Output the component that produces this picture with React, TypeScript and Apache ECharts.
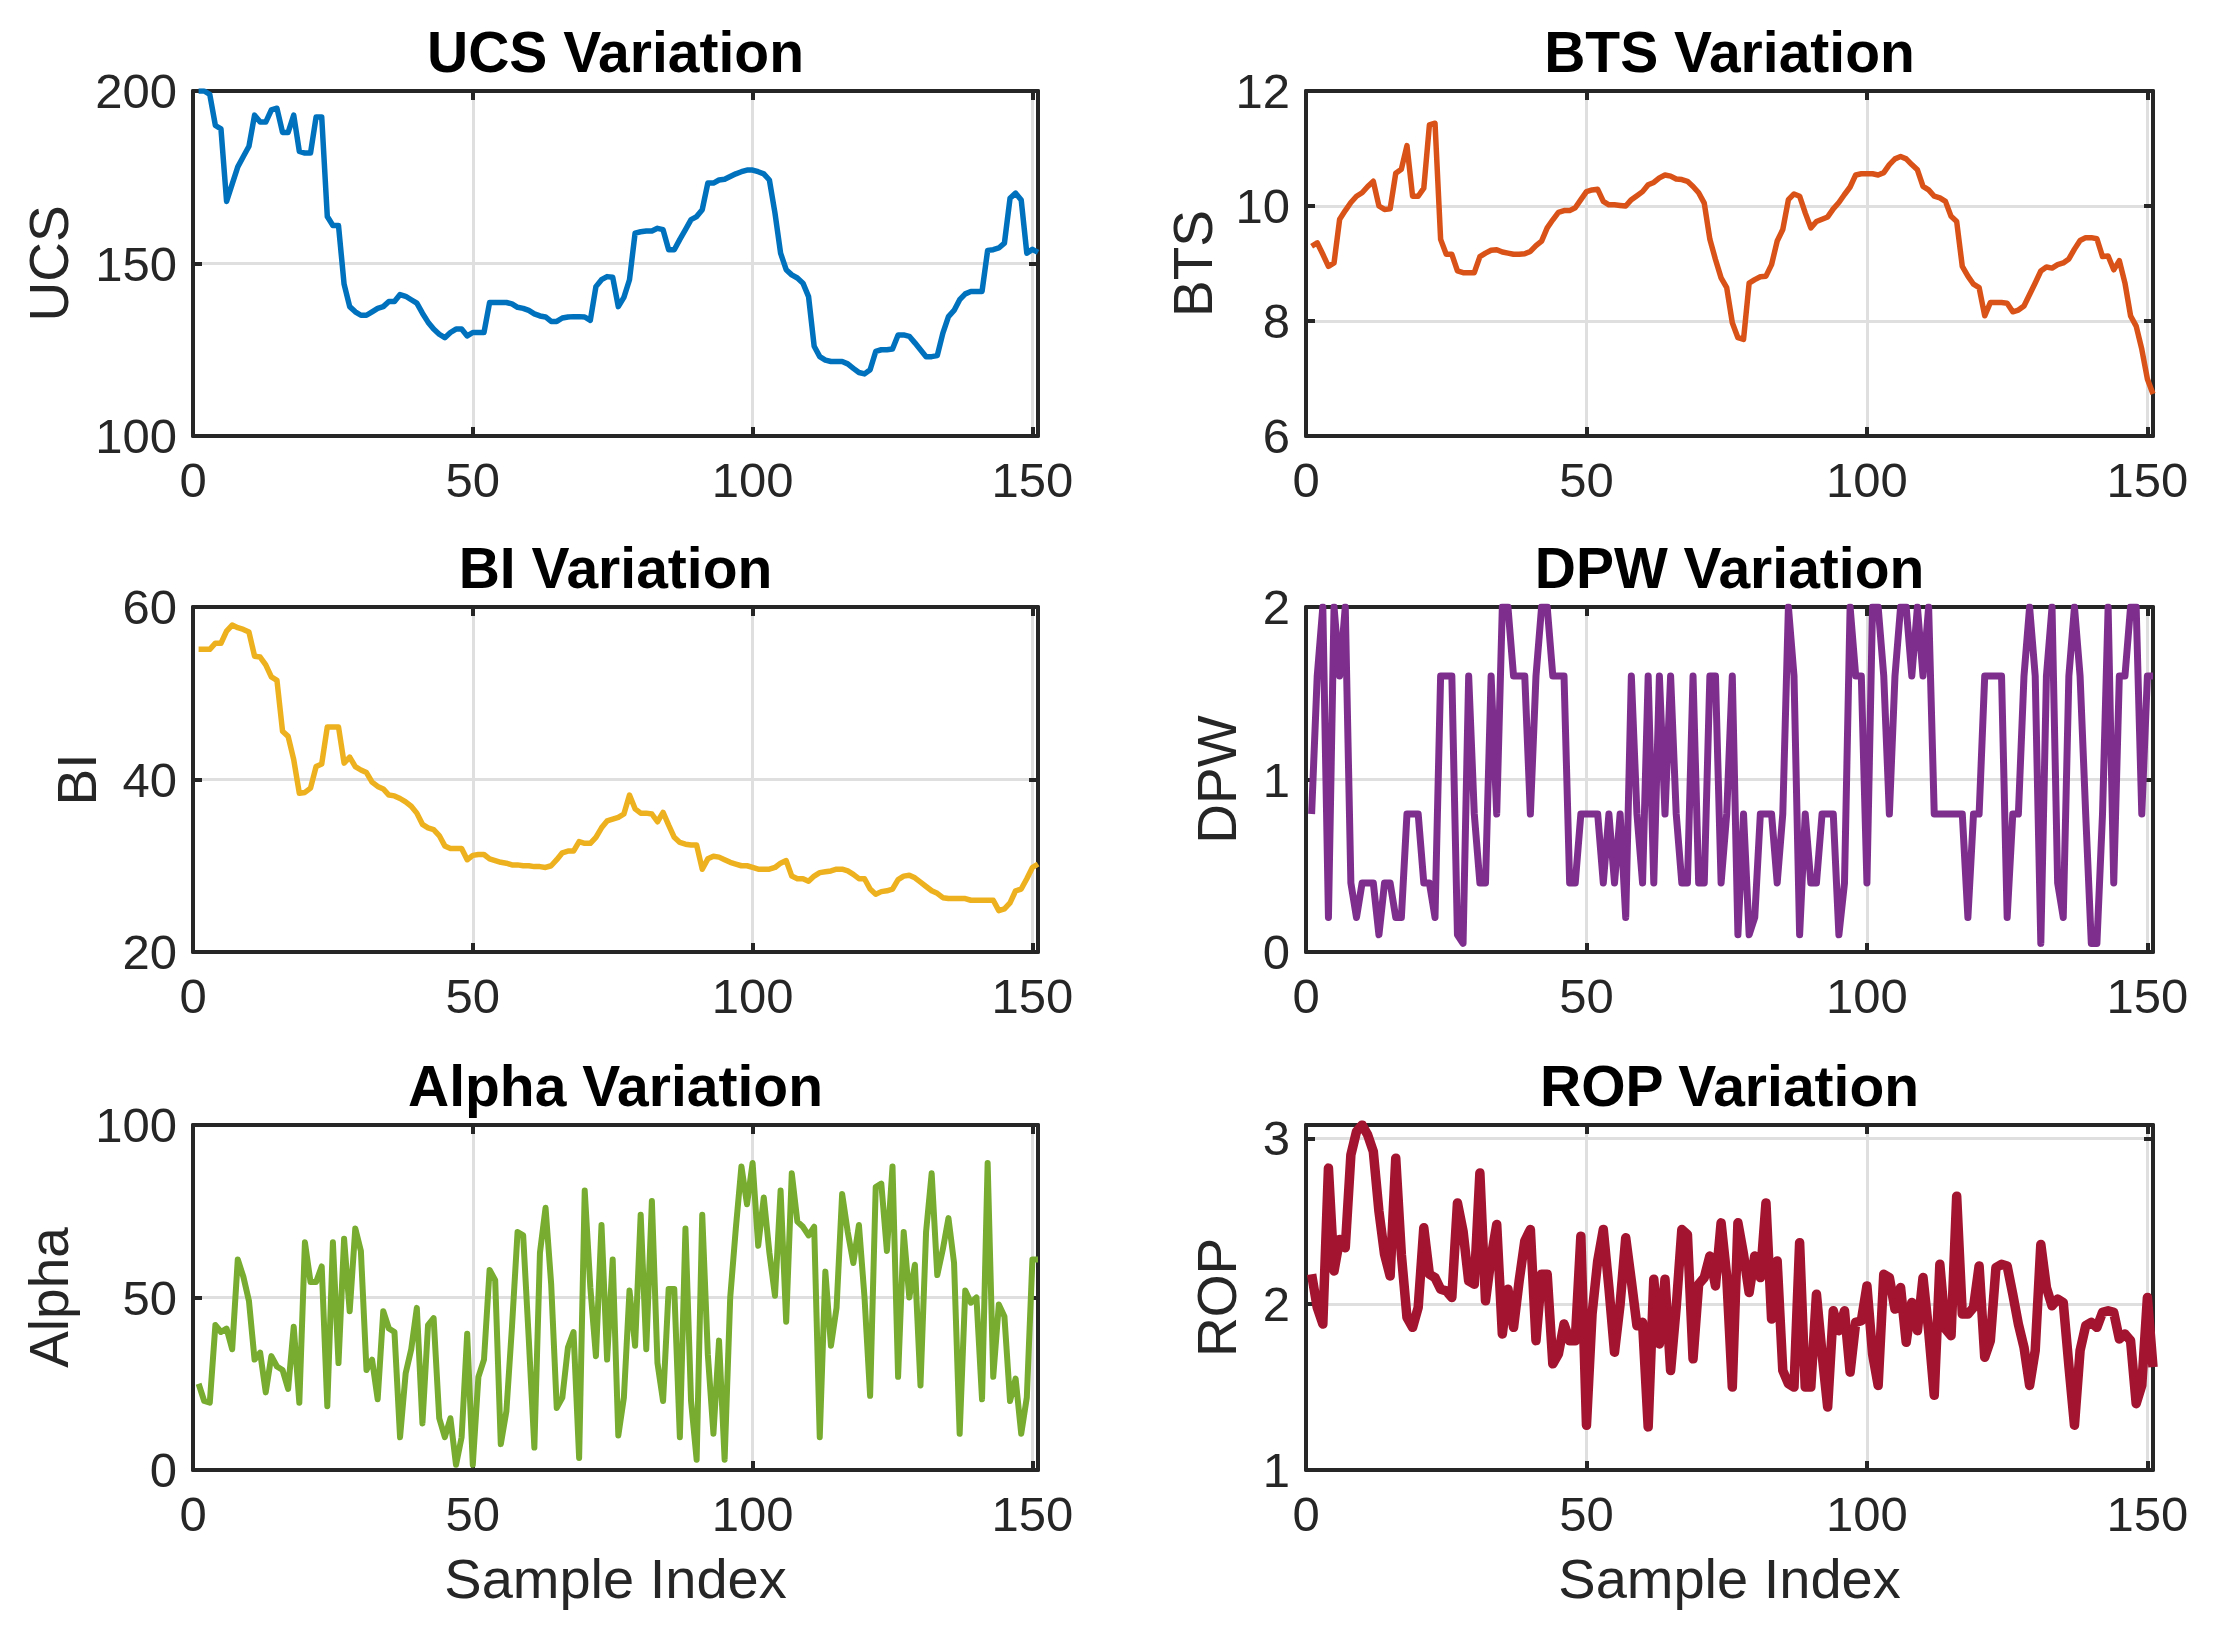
import { useEffect, useRef } from 'react';
import * as echarts from 'echarts';

const titles = ['UCS Variation', 'BTS Variation', 'BI Variation', 'DPW Variation', 'Alpha Variation', 'ROP Variation'];
const yNames = ['UCS', 'BTS', 'BI', 'DPW', 'Alpha', 'ROP'];
const colors = ['#0072BD', '#D95319', '#EDB120', '#7E2F8E', '#77AC30', '#A2142F'];
const yMins = [100, 6, 20, 0, 0, 1];
const yMaxs = [200, 12, 60, 2, 100, 3.08];
const yIntervals = [50, 2, 20, 1, 50, 1];
const xTicks = [0, 50, 100, 150];

const ucs = [
  200, 200, 199, 190, 189, 168, 173, 178, 181, 184,
  193, 191, 191, 194.5, 195, 188, 188, 193, 182.5, 182,
  182, 192.5, 192.5, 163.6, 161, 161, 144, 137.5, 136, 135,
  135, 136, 137, 137.5, 139, 139, 141, 140.5, 139.5, 138.5,
  135.6, 133, 131, 129.5, 128.5, 130, 131, 131, 129, 130,
  130, 130, 138.7, 138.7, 138.7, 138.7, 138.3, 137.3, 137, 136.4,
  135.4, 134.8, 134.5, 133.2, 133.2, 134.2, 134.5, 134.6, 134.6, 134.5,
  133.5, 143.3, 145.3, 146.2, 146, 137.5, 140.2, 145.3, 158.8, 159.2,
  159.4, 159.4, 160.2, 159.8, 154, 154, 157, 159.8, 162.7, 163.6,
  165.6, 173.3, 173.3, 174.2, 174.4, 175.2, 176, 176.6, 177.1, 177.1,
  176.6, 176, 174.2, 164.6, 153, 148.2, 146.7, 145.8, 144.3, 140.4,
  126, 123, 122, 121.6, 121.6, 121.6, 120.9, 119.6, 118.4, 118,
  119.2, 124.5, 125, 125, 125.2, 129.3, 129.3, 128.9, 127, 125,
  123, 123, 123.3, 129.8, 134.6, 136.4, 139.5, 141.2, 141.9, 141.9,
  141.9, 153.8, 154, 154.5, 155.9, 168.9, 170.4, 168.4, 153, 154.1, 153.2,
];

const bts = [
  9.3, 9.36, 9.16, 8.95, 9.01, 9.77, 9.92, 10.06, 10.17, 10.23,
  10.34, 10.43, 10.0, 9.94, 9.95, 10.57, 10.64, 11.05, 10.17, 10.17,
  10.31, 11.41, 11.44, 9.42, 9.16, 9.16, 8.87, 8.84, 8.84, 8.84,
  9.12, 9.18, 9.23, 9.24, 9.2, 9.18, 9.16, 9.16, 9.17, 9.21,
  9.31, 9.39, 9.62, 9.76, 9.89, 9.92, 9.92, 9.97, 10.11, 10.25,
  10.28, 10.29, 10.08, 10.02, 10.02, 10.01, 10.0, 10.11, 10.18, 10.25,
  10.37, 10.41, 10.49, 10.54, 10.52, 10.47, 10.46, 10.43, 10.34, 10.23,
  10.05, 9.42, 9.07, 8.75, 8.58, 7.97, 7.71, 7.68, 8.66, 8.72,
  8.77, 8.78, 8.98, 9.39, 9.59, 10.11, 10.21, 10.17, 9.88, 9.62,
  9.73, 9.77, 9.81, 9.95, 10.06, 10.2, 10.33, 10.54, 10.56, 10.56,
  10.56, 10.54, 10.58, 10.72, 10.82, 10.86, 10.82, 10.72, 10.63, 10.34,
  10.28, 10.17, 10.14, 10.08, 9.82, 9.73, 8.95, 8.78, 8.64, 8.58,
  8.09, 8.32, 8.32, 8.32, 8.31, 8.16, 8.19, 8.26, 8.46, 8.66,
  8.87, 8.94, 8.92, 8.98, 9.01, 9.08, 9.25, 9.4, 9.45, 9.45,
  9.43, 9.12, 9.13, 8.89, 9.05, 8.66, 8.09, 7.91, 7.51, 6.99, 6.73,
];

const bi = [
  55.1, 55.1, 55.1, 55.8, 55.8, 57.2, 57.9, 57.6, 57.4, 57.1,
  54.3, 54.2, 53.3, 51.9, 51.5, 45.6, 45.0, 42.3, 38.4, 38.5,
  39.0, 41.5, 41.8, 46.1, 46.1, 46.1, 41.9, 42.6, 41.5, 41.1,
  40.8, 39.7, 39.2, 38.9, 38.2, 38.1, 37.8, 37.4, 36.9, 36.1,
  34.8, 34.4, 34.2, 33.5, 32.3, 32.0, 32.0, 32.0, 30.7, 31.2,
  31.3, 31.3, 30.8, 30.6, 30.4, 30.3, 30.1, 30.1, 30.0, 30.0,
  29.9, 29.9, 29.8, 30.0, 30.7, 31.5, 31.7, 31.7, 32.8, 32.6,
  32.6, 33.3, 34.4, 35.2, 35.4, 35.6, 36.0, 38.2, 36.6, 36.1,
  36.1, 36.0, 35.1, 36.2, 34.7, 33.3, 32.7, 32.5, 32.4, 32.4,
  29.6, 30.8, 31.1, 31.0, 30.7, 30.4, 30.2, 30.0, 30.0, 29.8,
  29.6, 29.6, 29.6, 29.8, 30.3, 30.6, 28.8, 28.5, 28.5, 28.2,
  28.8, 29.2, 29.3, 29.4, 29.6, 29.6, 29.4, 29.0, 28.5, 28.5,
  27.3, 26.7, 27.0, 27.1, 27.3, 28.4, 28.8, 28.9, 28.6, 28.1,
  27.6, 27.1, 26.8, 26.3, 26.2, 26.2, 26.2, 26.2, 26.0, 26.0,
  26.0, 26.0, 26.0, 24.8, 25.0, 25.7, 27.1, 27.3, 28.5, 29.8, 30.2,
];

const dpw = [
  0.8, 1.6, 2, 0.2, 2, 1.6, 2, 0.4, 0.2, 0.4,
  0.4, 0.4, 0.1, 0.4, 0.4, 0.2, 0.2, 0.8, 0.8, 0.8,
  0.4, 0.4, 0.2, 1.6, 1.6, 1.6, 0.1, 0.05, 1.6, 0.8,
  0.4, 0.4, 1.6, 0.8, 2, 2, 1.6, 1.6, 1.6, 0.8,
  1.6, 2, 2, 1.6, 1.6, 1.6, 0.4, 0.4, 0.8, 0.8,
  0.8, 0.8, 0.4, 0.8, 0.4, 0.8, 0.2, 1.6, 0.8, 0.4,
  1.6, 0.4, 1.6, 0.8, 1.6, 0.8, 0.4, 0.4, 1.6, 0.4,
  0.4, 1.6, 1.6, 0.4, 0.8, 1.6, 0.1, 0.8, 0.1, 0.2,
  0.8, 0.8, 0.8, 0.4, 0.8, 2, 1.6, 0.1, 0.8, 0.4,
  0.4, 0.8, 0.8, 0.8, 0.1, 0.4, 2, 1.6, 1.6, 0.4,
  2, 2, 1.6, 0.8, 1.6, 2, 2, 1.6, 2, 1.6,
  2, 0.8, 0.8, 0.8, 0.8, 0.8, 0.8, 0.2, 0.8, 0.8,
  1.6, 1.6, 1.6, 1.6, 0.2, 0.8, 0.8, 1.6, 2, 1.6,
  0.05, 1.6, 2, 0.4, 0.2, 1.6, 2, 1.6, 0.8, 0.05,
  0.05, 0.8, 2, 0.4, 1.6, 1.6, 2, 2, 0.8, 1.6, 1.6,
];

const alpha = [
  25, 20, 19.5, 42, 40, 41, 35, 61, 56, 49,
  32, 34, 22.5, 33, 30, 29, 23.5, 41.5, 19.5, 66,
  54.5, 54.5, 59, 18.5, 66, 31, 67, 46, 70, 63.5,
  29, 32, 20.5, 46, 41, 40, 9.5, 28, 35, 47,
  13.5, 42, 44, 15, 9.5, 15, 1.5, 9.5, 39.5, 1.5,
  27, 32, 58, 55, 7.5, 17, 41.5, 69, 68, 38,
  6.5, 63, 76, 54, 18, 21, 35.5, 40, 3.5, 81,
  53, 33, 71, 32, 61, 10, 21, 52, 36, 74,
  35, 78, 31, 20, 52.5, 52.5, 9.5, 70, 20, 3,
  74, 33.5, 10.5, 37.5, 3, 50, 70, 88, 77, 89,
  65, 79, 63, 50.5, 81, 43, 86, 72, 70.5, 68,
  70.5, 9.5, 57.5, 36, 47, 80, 69, 60, 71, 50,
  21.5, 82, 83, 63.5, 88, 27, 69, 50, 59.5, 24.5,
  69, 86, 56.5, 64, 73, 60, 10.5, 52, 48.5, 50,
  20.5, 89, 27, 48, 44.5, 20, 26.5, 10.5, 21, 61, 61,
];

const rop = [
  2.18, 1.98, 1.88, 2.82, 2.2, 2.39, 2.34, 2.9, 3.04, 3.08,
  3.02, 2.92, 2.56, 2.3, 2.17, 2.88, 2.3, 1.92, 1.86, 1.98,
  2.46, 2.18, 2.16, 2.09, 2.08, 2.04, 2.61, 2.44, 2.14, 2.12,
  2.79, 2.02, 2.28, 2.48, 1.82, 2.09, 1.86, 2.14, 2.38, 2.45,
  1.78, 2.18, 2.18, 1.64, 1.7, 1.88, 1.78, 1.78, 2.41, 1.27,
  1.94, 2.26, 2.45, 2.1, 1.71, 2.0, 2.4, 2.14, 1.87, 1.89,
  1.26, 2.15, 1.76, 2.15, 1.6, 1.98, 2.45, 2.42, 1.67, 2.12,
  2.16, 2.29, 2.11, 2.49, 2.17, 1.5, 2.49, 2.3, 2.07, 2.29,
  2.16, 2.61, 1.91, 2.26, 1.6, 1.52, 1.5, 2.37, 1.5, 1.5,
  2.06, 1.7, 1.38, 1.96, 1.84, 1.96, 1.59, 1.89, 1.9, 2.11,
  1.7, 1.51, 2.18, 2.16, 1.97, 2.1, 1.77, 2.01, 1.84, 2.16,
  1.84, 1.45, 2.24, 1.85, 1.81, 2.65, 1.94, 1.94, 1.98, 2.23,
  1.68, 1.78, 2.22, 2.24, 2.23, 2.06, 1.88, 1.74, 1.51, 1.72,
  2.36, 2.1, 1.99, 2.03, 2.01, 1.63, 1.27, 1.72, 1.87, 1.89,
  1.86, 1.95, 1.96, 1.95, 1.79, 1.82, 1.78, 1.4, 1.51, 2.04, 1.62,
];

const seriesData = [ucs, bts, bi, dpw, alpha, rop];
const lineWidths = [5.5, 5.5, 5.5, 7, 6, 9.5];

const FONT = '"Liberation Sans", Arial, Helvetica, sans-serif';
const INK = '#262626';
const GRID = '#dfdfdf';

// panel geometry (px), 2 columns x 3 rows
const colLeft = [193, 1306];
const colWidth = [845, 847];
const rowTop = [91, 607, 1125];
const rowHeight = 345;
const yNameGaps = [117, 86, 89, 62, 117, 62];

const App = () => {
  const chartRef = useRef(null);

  useEffect(() => {
    document.body.style.margin = '0';
    if (!chartRef.current) return;
    const chart = echarts.init(chartRef.current, null, { renderer: 'svg' });

    const grids: any[] = [];
    const xAxes: any[] = [];
    const yAxes: any[] = [];
    const series: any[] = [];
    const graphics: any[] = [];

    for (let i = 0; i < 6; i++) {
      const col = i % 2;
      const row = Math.floor(i / 2);
      grids.push({
        left: colLeft[col],
        top: rowTop[row],
        width: colWidth[col],
        height: rowHeight,
        show: false,
      });

      const boxLine = { show: true, onZero: false, lineStyle: { color: INK, width: 4 } };
      const tick = { show: true, inside: true, length: 9, lineStyle: { color: INK, width: 4 } };

      xAxes.push({
        type: 'value',
        gridIndex: i,
        position: 'bottom',
        min: 0,
        max: 151,
        interval: 50,
        axisLine: boxLine,
        axisTick: tick,
        axisLabel: {
          formatter: (v: number) => (xTicks.includes(v) ? String(v) : ''),
          fontSize: 49,
          fontFamily: FONT,
          color: INK,
          margin: 19,
        },
        splitLine: { show: true, lineStyle: { color: GRID, width: 3 } },
        name: row === 2 ? 'Sample Index' : '',
        nameLocation: 'middle',
        nameGap: 80,
        nameTextStyle: { fontSize: 56, fontFamily: FONT, color: INK },
      });
      xAxes.push({
        type: 'value',
        gridIndex: i,
        position: 'top',
        min: 0,
        max: 151,
        interval: 50,
        axisLine: boxLine,
        axisTick: tick,
        axisLabel: { show: false },
        splitLine: { show: false },
      });

      yAxes.push({
        type: 'value',
        gridIndex: i,
        position: 'left',
        min: yMins[i],
        max: yMaxs[i],
        interval: yIntervals[i],
        axisLine: boxLine,
        axisTick: tick,
        axisLabel: {
          formatter: (v: number) => ((v - yMins[i]) % yIntervals[i] === 0 ? String(v) : ''),
          fontSize: 49,
          fontFamily: FONT,
          color: INK,
          margin: 16,
        },
        splitLine: { show: true, lineStyle: { color: GRID, width: 3 } },
        name: yNames[i],
        nameLocation: 'middle',
        nameGap: yNameGaps[i],
        nameTextStyle: { fontSize: 55, fontFamily: FONT, color: INK },
      });
      yAxes.push({
        type: 'value',
        gridIndex: i,
        position: 'right',
        min: yMins[i],
        max: yMaxs[i],
        interval: yIntervals[i],
        axisLine: boxLine,
        axisTick: tick,
        axisLabel: { show: false },
        splitLine: { show: false },
      });

      series.push({
        type: 'line',
        xAxisIndex: 2 * i,
        yAxisIndex: 2 * i,
        data: seriesData[i].map((v, k) => [k + 1, v]),
        showSymbol: false,
        symbol: 'none',
        lineStyle: { color: colors[i], width: lineWidths[i], join: 'round' },
        z: 1,
      });

      graphics.push({
        type: 'text',
        x: colLeft[col] + colWidth[col] / 2,
        y: rowTop[row] - 39,
        style: {
          text: titles[i],
          fontSize: 57,
          fontWeight: 'bold',
          fontFamily: FONT,
          fill: '#000000',
          align: 'center',
          verticalAlign: 'middle',
        },
      });
    }

    chart.setOption({
      animation: false,
      backgroundColor: '#ffffff',
      grid: grids,
      xAxis: xAxes,
      yAxis: yAxes,
      series,
      graphic: graphics,
    });

    return () => {
      chart.dispose();
    };
  }, []);

  return <div ref={chartRef} style={{ width: '2214px', height: '1634px' }} />;
};

export default App;
